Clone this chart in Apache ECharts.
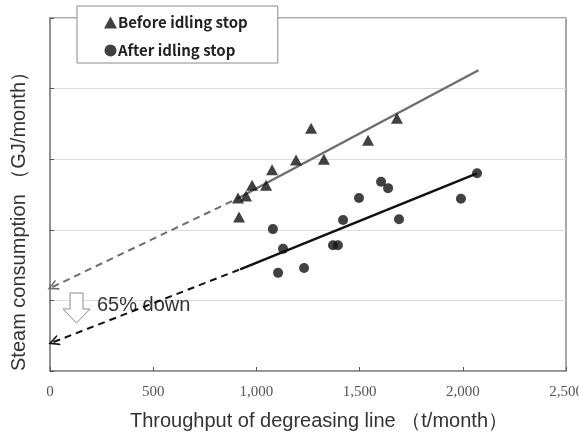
<!DOCTYPE html>
<html>
<head>
<meta charset="utf-8">
<script src="https://cdn.jsdelivr.net/npm/echarts@6/dist/echarts.min.js"></script>
<style>
    html, body { margin: 0; padding: 0; background: #fff; }
    #main { width: 579px; height: 440px; }
</style>
</head>
<body>
<div id="main"></div>
<script>
    // 数据 (t/month, 相对刻度)
    var xTicks = [0, 500, 1000, 1500, 2000, 2500];
    var beforeIdling = [
        [916, 2.18], [911, 2.45], [950, 2.48], [979, 2.63], [1047, 2.63], [1076, 2.85],
        [1192, 2.99], [1265, 3.44], [1327, 3.00], [1541, 3.27], [1681, 3.58]
    ];
    var afterIdling = [
        [1080, 2.01], [1129, 1.73], [1105, 1.39], [1231, 1.46], [1371, 1.78], [1395, 1.78],
        [1420, 2.14], [1497, 2.45], [1604, 2.68], [1638, 2.59], [1691, 2.15], [1991, 2.44],
        [2069, 2.80]
    ];
    var beforeFitSolid = [[906, 2.44], [2076, 4.26]];
    var beforeFitDashed = [[12, 1.19], [906, 2.44]];
    var afterFitSolid = [[921, 1.44], [2069, 2.80]];
    var afterFitDashed = [[17, 0.41], [921, 1.44]];

    var arrowPath = 'path://M10,0 L0,5 L10,10 L10,8.4 L3.2,5 L10,1.6 Z';

    function withArrow(points, rotate, color) {
        return points.map(function (p, i) {
            if (i === 0) {
                return {
                    value: p,
                    symbol: arrowPath,
                    symbolSize: [11, 11],
                    symbolRotate: rotate,
                    itemStyle: { color: color }
                };
            }
            return { value: p, symbol: 'none' };
        });
    }

    function fmtNum(v) {
        return String(v).replace(/\B(?=(\d{3})+(?!\d))/g, ',');
    }

    var myChart = echarts.init(document.getElementById('main'));
    var option = {
        backgroundColor: '#fff',
        animation: false,
        grid: {
            left: 50, right: 13, top: 18, bottom: 69,
            outerBoundsMode: 'none',
            show: true,
            borderColor: '#8a8a8a',
            borderWidth: 1.5
        },
        legend: {
            data: [
                { name: 'Before idling stop', icon: 'triangle' },
                { name: 'After idling stop', icon: 'circle' }
            ],
            orient: 'vertical',
            left: 77,
            top: 6,
            padding: [9, 30, 5, 27],
            itemWidth: 13,
            itemHeight: 12,
            itemGap: 13,
            backgroundColor: '#fff',
            borderColor: '#8a8a8a',
            borderWidth: 1,
            textStyle: {
                fontFamily: 'Noto Sans CJK JP',
                fontSize: 15,
                fontWeight: 'bold',
                color: '#222',
                padding: [0, 0, 0, -4]
            }
        },
        xAxis: {
            type: 'value',
            min: xTicks[0],
            max: xTicks[xTicks.length - 1],
            interval: 500,
            name: 'Throughput of degreasing line （t/month）',
            nameLocation: 'middle',
            nameGap: 40,
            nameTextStyle: { fontFamily: 'Liberation Sans', fontSize: 20, color: '#333', padding: [0, 0, 0, 22] },
            axisLine: { lineStyle: { color: '#8a8a8a', width: 1.5 } },
            axisTick: { inside: true, length: 4, lineStyle: { color: '#555' } },
            axisLabel: {
                margin: 14,
                fontFamily: 'Liberation Serif',
                fontSize: 15,
                color: '#555',
                formatter: fmtNum
            },
            splitLine: { show: false }
        },
        yAxis: {
            type: 'value',
            min: 0,
            max: 5,
            interval: 1,
            name: 'Steam consumption （GJ/month）',
            nameLocation: 'middle',
            nameGap: 21,
            nameTextStyle: { fontFamily: 'Liberation Sans', fontSize: 20, color: '#333', padding: [0, 44, 0, 0] },
            axisLine: { lineStyle: { color: '#8a8a8a', width: 1.5 } },
            axisTick: { inside: true, length: 4, lineStyle: { color: '#555' } },
            axisLabel: { show: false },
            splitLine: { lineStyle: { color: '#dcdcdc', width: 1 } }
        },
        series: [
            {
                name: 'beforeFitDashed',
                type: 'line',
                symbol: 'none',
                z: 3,
                data: withArrow(beforeFitDashed, 25, '#6e6e6e'),
                lineStyle: { color: '#6e6e6e', width: 2, type: [7, 5] }
            },
            {
                name: 'afterFitDashed',
                type: 'line',
                symbol: 'none',
                z: 3,
                data: withArrow(afterFitDashed, 21, '#111'),
                lineStyle: { color: '#111', width: 2, type: [7, 5] }
            },
            {
                name: 'beforeFitSolid',
                type: 'line',
                symbol: 'none',
                z: 3,
                data: beforeFitSolid,
                lineStyle: { color: '#6e6e6e', width: 2.5 }
            },
            {
                name: 'afterFitSolid',
                type: 'line',
                symbol: 'none',
                z: 3,
                data: afterFitSolid,
                lineStyle: { color: '#111', width: 2.5 }
            },
            {
                name: 'Before idling stop',
                type: 'scatter',
                symbol: 'triangle',
                symbolSize: [12, 11],
                z: 4,
                itemStyle: { color: '#111' },
                data: beforeIdling
            },
            {
                name: 'After idling stop',
                type: 'scatter',
                symbol: 'circle',
                symbolSize: 10,
                z: 4,
                itemStyle: { color: '#111' },
                data: afterIdling
            }
        ],
        graphic: [
            // 下向き矢印
            {
                type: 'polygon',
                z: 2,
                shape: {
                    points: [[70, 293], [83, 293], [83, 309], [90, 309], [76.5, 323], [63, 309], [70, 309]]
                },
                style: { fill: '#fff', stroke: '#8a8a8a', lineWidth: 1 }
            },
            {
                type: 'text',
                z: 2,
                left: 97,
                top: 295,
                style: {
                    text: '65% down',
                    font: '20px "Liberation Sans"',
                    fill: '#333'
                }
            }
        ]
    };
    myChart.setOption(option);
</script>
</body>
</html>
